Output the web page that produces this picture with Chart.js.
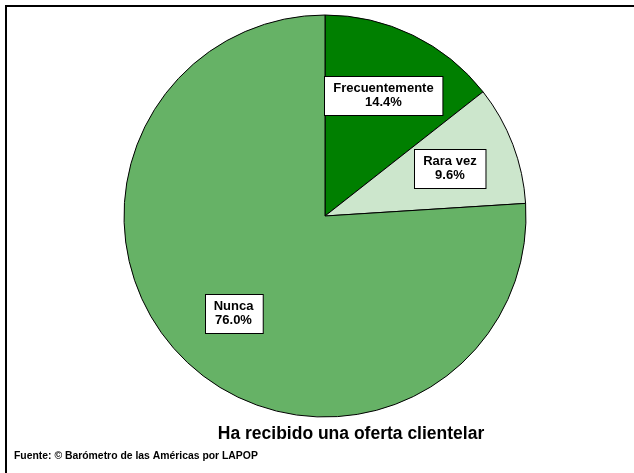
<!DOCTYPE html>
<html>
<head>
<meta charset="utf-8">
<script src="https://cdn.jsdelivr.net/npm/chart.js@4/dist/chart.umd.min.js"></script>
<style>
  html, body { margin: 0; padding: 0; background: #ffffff; }
  #wrap { width: 634px; height: 473px; position: relative; }
</style>
</head>
<body>
<div id="wrap"><canvas id="c" width="634" height="473"></canvas></div>
<script>
// Categories and shares (%)
const categories = ['Frecuentemente', 'Rara vez', 'Nunca'];
const shares = [14.4, 9.6, 76.0];
const sliceColors = ['#007F00', '#CCE6CC', '#66B266'];
const chartTitle = 'Ha recibido una oferta clientelar';
const sourceNote = 'Fuente: \u00A9 Bar\u00F3metro de las Am\u00E9ricas por LAPOP';

// White boxed labels with category name and percentage inside each slice
const sliceLabels = {
  id: 'sliceLabels',
  afterDatasetsDraw(chart) {
    const ctx = chart.ctx;
    const meta = chart.getDatasetMeta(0);
    ctx.save();
    ctx.font = 'bold 13px "Liberation Sans", Arial, sans-serif';
    ctx.textAlign = 'center';
    ctx.textBaseline = 'middle';
    meta.data.forEach((arc, i) => {
      const p = arc.getProps(['x', 'y', 'startAngle', 'endAngle', 'outerRadius'], true);
      const mid = (p.startAngle + p.endAngle) / 2;
      const r = p.outerRadius * 0.665;
      const cx = p.x + Math.cos(mid) * r;
      const cy = p.y + Math.sin(mid) * r;
      const lines = [categories[i], shares[i].toFixed(1) + '%'];
      const w = Math.max(...lines.map(t => ctx.measureText(t).width)) + 18;
      const h = 39;
      const bx = Math.round(cx - w / 2) + 0.5;
      const by = Math.round(cy - h / 2) + 0.5;
      ctx.fillStyle = '#ffffff';
      ctx.fillRect(bx, by, w, h);
      ctx.strokeStyle = '#000000';
      ctx.lineWidth = 1;
      ctx.strokeRect(bx, by, w, h);
      ctx.fillStyle = '#000000';
      ctx.fillText(lines[0], cx, cy - 7);
      ctx.fillText(lines[1], cx, cy + 7);
    });
    ctx.restore();
  }
};

// Frame, title and source line
const decorations = {
  id: 'decorations',
  afterDraw(chart) {
    const ctx = chart.ctx;
    ctx.save();
    ctx.strokeStyle = '#000000';
    ctx.lineWidth = 2;
    ctx.strokeRect(6, 6, 640, 480);
    ctx.fillStyle = '#000000';
    ctx.textBaseline = 'middle';
    ctx.textAlign = 'center';
    ctx.font = 'bold 17.5px "Liberation Sans", Arial, sans-serif';
    ctx.fillText(chartTitle, 351, 434);
    ctx.textAlign = 'left';
    ctx.font = 'bold 10.4px "Liberation Sans", Arial, sans-serif';
    ctx.fillText(sourceNote, 14, 456);
    ctx.restore();
  }
};

new Chart(document.getElementById('c'), {
  type: 'pie',
  data: {
    labels: categories,
    datasets: [{
      data: shares,
      backgroundColor: sliceColors,
      borderColor: '#000000',
      borderWidth: 1,
      borderJoinStyle: 'miter',
      borderAlign: 'center'
    }]
  },
  options: {
    responsive: false,
    animation: false,
    radius: 201,
    layout: { padding: { left: 24, right: 8, top: 10, bottom: 51 } },
    plugins: {
      legend: { display: false },
      title: { display: false },
      tooltip: { enabled: false }
    }
  },
  plugins: [sliceLabels, decorations]
});
</script>
</body>
</html>
